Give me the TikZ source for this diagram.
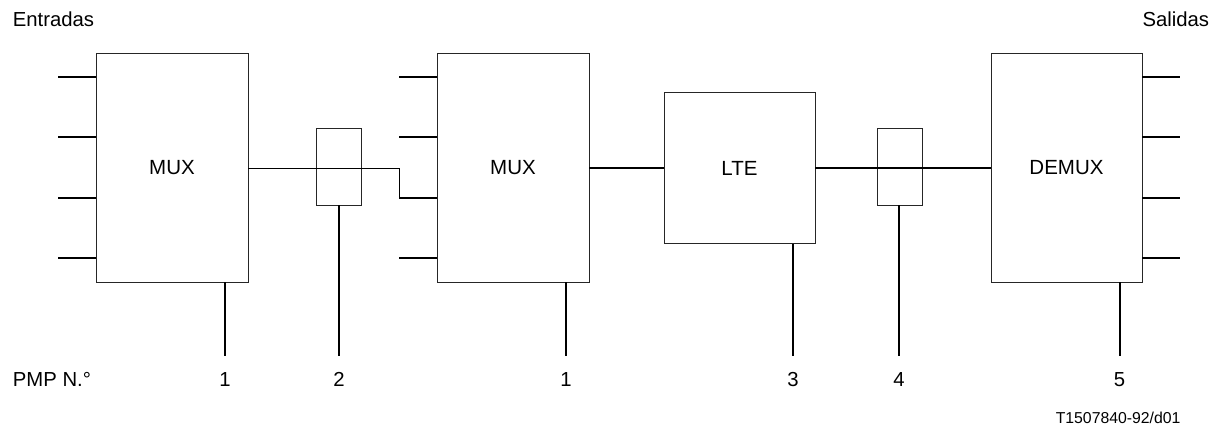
\documentclass[tikz,border=0pt]{standalone}
\usepackage{fontspec}
\setmainfont{Liberation Sans}
\begin{document}
\begin{tikzpicture}[x=1pt,y=-1pt,
  blk/.style={draw=black!85,line width=1pt,inner sep=0pt,outer sep=0pt,font=\fontsize{20.5}{24}\selectfont},
  tap/.style={draw=black!85,line width=1pt,inner sep=0pt,outer sep=0pt,minimum width=45pt,minimum height=76pt},
  conn/.style={line width=2pt,black},
  thinconn/.style={line width=1pt,black},
  lbl/.style={inner sep=0pt,font=\fontsize{20.3}{24}\selectfont},
  ref/.style={inner sep=0pt,font=\fontsize{15.8}{18}\selectfont}]
\useasboundingbox (0,0) rectangle (1218,425);
% blocks
\node[blk,minimum width=152pt,minimum height=228pt] (mux1) at (172,168) {MUX};
\node[tap] (t1) at (338.5,167) {};
\node[blk,minimum width=152pt,minimum height=228pt] (mux2) at (513,168) {MUX};
\node[blk,minimum width=151pt,minimum height=151pt] (lte) at (739.5,168) {LTE};
\node[tap] (t2) at (899.5,167) {};
\node[blk,minimum width=151pt,minimum height=228pt] (demux) at (1066.5,168) {DEMUX};
% texts
\node[lbl,anchor=base west] (ent) at (12.7,26.7) {Entradas};
\node[lbl,anchor=base east] (sal) at (1209.3,26.7) {Salidas};
\node[lbl,anchor=base west] (pmp) at (12.7,386) {PMP N.°};
\node[lbl,anchor=base] (n1) at (225,386) {1};
\node[lbl,anchor=base] (n2) at (339,386) {2};
\node[lbl,anchor=base] (n3) at (566,386) {1};
\node[lbl,anchor=base] (n4) at (793,386) {3};
\node[lbl,anchor=base] (n5) at (899,386) {4};
\node[lbl,anchor=base] (n6) at (1119.5,386) {5};
\node[ref,anchor=base east] (fig) at (1180.7,423) {T1507840-92/d01};
% input stubs
\foreach \y [count=\i] in {77,137,198,258}{
  \coordinate (a\i) at (58,\y);
  \draw[conn] (a\i) -- (a\i -| mux1.west);
  \coordinate (b\i) at (399,\y);
  \draw[conn] (b\i) -- (b\i -| mux2.west);
  \coordinate (c\i) at (1180,\y);
  \draw[conn] (demux.east |- c\i) -- (c\i);
}
% main chain
\coordinate (k1) at (399,168);
\draw[thinconn] (mux1.east) -- (k1) -- (b3);
\draw[conn] (mux2.east) -- (lte.west);
\draw[conn] (lte.east) -- (demux.west);
% PMP drops
\coordinate (d1) at (225,356);
\coordinate (d2) at (339,356);
\coordinate (d3) at (566,356);
\coordinate (d4) at (793,356);
\coordinate (d5) at (899,356);
\coordinate (d6) at (1120,356);
\draw[conn] (d1 |- mux1.south) -- (d1);
\draw[conn] (d2 |- t1.south) -- (d2);
\draw[conn] (d3 |- mux2.south) -- (d3);
\draw[conn] (d4 |- lte.south) -- (d4);
\draw[conn] (d5 |- t2.south) -- (d5);
\draw[conn] (d6 |- demux.south) -- (d6);
\end{tikzpicture}
\end{document}
